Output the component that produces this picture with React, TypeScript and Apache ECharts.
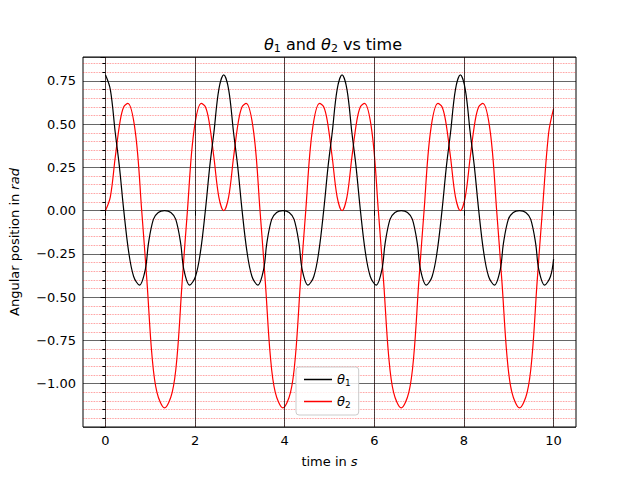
import { useEffect, useRef } from "react";
import * as echarts from "echarts";

// values (double pendulum angles)
const theta1Time = [
  0, 0.11, 0.22, 0.31, 0.41, 0.52, 0.63, 0.76, 0.89, 0.96, 1.07, 1.18, 1.32, 1.46, 1.57, 1.68, 1.75, 1.88, 2.01, 2.12, 2.23, 2.33, 2.42, 2.53,
  2.64, 2.75, 2.86, 2.95, 3.05, 3.16, 3.27, 3.4, 3.53, 3.6, 3.71, 3.82, 3.96, 4.1, 4.21, 4.32, 4.39, 4.52, 4.65, 4.76, 4.87, 4.97, 5.06, 5.17,
  5.28, 5.39, 5.5, 5.59, 5.69, 5.8, 5.91, 6.04, 6.17, 6.24, 6.35, 6.46, 6.6, 6.74, 6.85, 6.96, 7.03, 7.16, 7.29, 7.4, 7.51, 7.61, 7.7, 7.81,
  7.92, 8.03, 8.14, 8.23, 8.33, 8.44, 8.55, 8.68, 8.81, 8.88, 8.99, 9.1, 9.24, 9.38, 9.49, 9.6, 9.67, 9.8, 9.93, 10.0,
];
const theta1Value = [
  0.785, 0.7, 0.45, 0.26, 0, -0.24, -0.38, -0.43, -0.34, -0.19, -0.05, -0.01, 0, -0.01, -0.05, -0.19, -0.34, -0.43, -0.38, -0.24, 0, 0.26, 0.45, 0.7,
  0.785, 0.7, 0.45, 0.26, 0, -0.24, -0.38, -0.43, -0.34, -0.19, -0.05, -0.01, 0, -0.01, -0.05, -0.19, -0.34, -0.43, -0.38, -0.24, 0, 0.26, 0.45, 0.7,
  0.785, 0.7, 0.45, 0.26, 0, -0.24, -0.38, -0.43, -0.34, -0.19, -0.05, -0.01, 0, -0.01, -0.05, -0.19, -0.34, -0.43, -0.38, -0.24, 0, 0.26, 0.45, 0.7,
  0.785, 0.7, 0.45, 0.26, 0, -0.24, -0.38, -0.43, -0.34, -0.19, -0.05, -0.01, 0, -0.01, -0.05, -0.19, -0.34, -0.43, -0.38, -0.28,
];
const theta2Time = [
  0, 0.11, 0.22, 0.33, 0.41, 0.5, 0.67, 0.81, 0.93, 1.04, 1.15, 1.32, 1.49, 1.6, 1.71, 1.83, 1.97, 2.14, 2.23, 2.31, 2.42, 2.53,
  2.64, 2.75, 2.86, 2.97, 3.05, 3.14, 3.31, 3.45, 3.57, 3.68, 3.79, 3.96, 4.13, 4.24, 4.35, 4.47, 4.61, 4.78, 4.87, 4.95, 5.06, 5.17,
  5.28, 5.39, 5.5, 5.61, 5.69, 5.78, 5.95, 6.09, 6.21, 6.32, 6.43, 6.6, 6.77, 6.88, 6.99, 7.11, 7.25, 7.42, 7.51, 7.59, 7.7, 7.81,
  7.92, 8.03, 8.14, 8.25, 8.33, 8.42, 8.59, 8.73, 8.85, 8.96, 9.07, 9.24, 9.41, 9.52, 9.63, 9.75, 9.89, 10.0,
];
const theta2Value = [
  0, 0.08, 0.31, 0.52, 0.6, 0.62, 0.45, 0, -0.42, -0.84, -1.05, -1.14, -1.05, -0.84, -0.42, 0, 0.45, 0.62, 0.6, 0.52, 0.31, 0.08,
  0, 0.08, 0.31, 0.52, 0.6, 0.62, 0.45, 0, -0.42, -0.84, -1.05, -1.14, -1.05, -0.84, -0.42, 0, 0.45, 0.62, 0.6, 0.52, 0.31, 0.08,
  0, 0.08, 0.31, 0.52, 0.6, 0.62, 0.45, 0, -0.42, -0.84, -1.05, -1.14, -1.05, -0.84, -0.42, 0, 0.45, 0.62, 0.6, 0.52, 0.31, 0.08,
  0, 0.08, 0.31, 0.52, 0.6, 0.62, 0.45, 0, -0.42, -0.84, -1.05, -1.14, -1.05, -0.84, -0.42, 0, 0.45, 0.59,
];
const xMajorTicks = [0, 2, 4, 6, 8, 10];

const FONT = "DejaVu Sans";
const rich = {
  i: { fontFamily: FONT, fontStyle: "italic" as const, fontSize: 13, color: "#000" },
  s: { fontFamily: FONT, fontSize: 9, color: "#000", verticalAlign: "bottom" as const, padding: [6, 0, 0, 0] },
};

const App = () => {
  const ref = useRef<HTMLDivElement>(null);

  useEffect(() => {
    if (!ref.current) return;
    const chart = echarts.init(ref.current, null, { renderer: "svg" });
    const zip = (t: number[], v: number[]) => t.map((x, i) => [x, v[i]]);

    chart.setOption({
      animation: false,
      backgroundColor: "#fff",
      title: {
        text: "{i|θ}{s|1}{n| and }{i|θ}{s|2}{n| vs time}",
        left: 328,
        textAlign: "center",
        top: 30,
        textStyle: {
          fontWeight: "normal",
          rich: {
            i: { ...rich.i, fontSize: 16, fontWeight: "normal" },
            s: { ...rich.s, fontSize: 11, fontWeight: "normal", padding: [8, 0, 0, 0] },
            n: { fontFamily: FONT, fontSize: 16, fontWeight: "normal", color: "#000" },
          },
        },
      },
      legend: {
        orient: "vertical",
        left: 296,
        top: 367,
        padding: [6, 8, 6, 8],
        itemGap: 8,
        backgroundColor: "rgba(255,255,255,0.8)",
        borderColor: "#ccc",
        borderWidth: 1,
        borderRadius: 3,
        icon: "rect",
        itemWidth: 28,
        itemHeight: 1.5,
        formatter: (name: string) => `{i|θ}{s|${name.slice(1)}}`,
        textStyle: { rich },
        data: ["θ1", "θ2"],
      },
      grid: {
        left: 80,
        right: 64,
        top: 57,
        bottom: 53,
        show: true,
        borderColor: "#000",
        borderWidth: 1,
        backgroundColor: "transparent",
      },
      xAxis: {
        type: "value",
        min: -0.5,
        max: 10.5,
        interval: 0.5,
        name: "time in {i|s}",
        nameLocation: "middle",
        nameGap: 28,
        nameTextStyle: { fontFamily: FONT, fontSize: 13, color: "#000", rich: { i: { fontFamily: FONT, fontStyle: "italic", fontSize: 13 } } },
        axisLine: { show: false },
        axisTick: { show: true, length: 5, customValues: xMajorTicks, lineStyle: { color: "#000" } },
        axisLabel: {
          customValues: xMajorTicks,
          fontFamily: FONT,
          fontSize: 13,
          color: "#000",
          margin: 7,
          formatter: (v: number) => (xMajorTicks.includes(v) ? String(v) : ""),
        },
        splitLine: { show: true, lineStyle: { color: "#ff0000", opacity: 0.55, type: "dotted", width: 0.8 } },
      },
      yAxis: {
        type: "value",
        min: -1.25,
        max: 0.888,
        interval: 0.25,
        name: "Angular position in {i|rad}",
        nameLocation: "middle",
        nameGap: 62,
        nameTextStyle: { fontFamily: FONT, fontSize: 13, color: "#000", rich: { i: { fontFamily: FONT, fontStyle: "italic", fontSize: 13 } } },
        axisLine: { show: false },
        axisTick: { show: true, length: 5, lineStyle: { color: "#000" } },
        minorTick: { show: true, splitNumber: 5, length: 3, lineStyle: { color: "#000" } },
        axisLabel: {
          fontFamily: FONT,
          fontSize: 13,
          color: "#000",
          margin: 7,
          showMaxLabel: false,
          formatter: (v: number) => (v < -1.1 || v > 0.8 ? "" : v.toFixed(2).replace("-", "−")),
        },
        splitLine: { show: true, lineStyle: { color: "#000", width: 0.6 } },
        minorSplitLine: { show: true, lineStyle: { color: "#ff0000", opacity: 0.55, type: "dotted", width: 0.8 } },
      },
      series: [
        {
          name: "θ1",
          type: "line",
          data: zip(theta1Time, theta1Value),
          smooth: 0.35,
          symbol: "none",
          lineStyle: { color: "#000", width: 1.2 },
          itemStyle: { color: "#000" },
          markLine: {
            silent: true,
            symbol: "none",
            label: { show: false },
            lineStyle: { color: "#000", width: 0.7, type: "solid", opacity: 1 },
            data: xMajorTicks.map((v) => ({ xAxis: v })),
          },
          z: 3,
        },
        {
          name: "θ2",
          type: "line",
          data: zip(theta2Time, theta2Value),
          smooth: 0.35,
          symbol: "none",
          lineStyle: { color: "#ff0000", width: 1.2 },
          itemStyle: { color: "#ff0000" },
          z: 2,
        },
      ],
    });
    return () => chart.dispose();
  }, []);

  return <div ref={ref} style={{ width: 640, height: 480, margin: -8 }} />;
};

export default App;
